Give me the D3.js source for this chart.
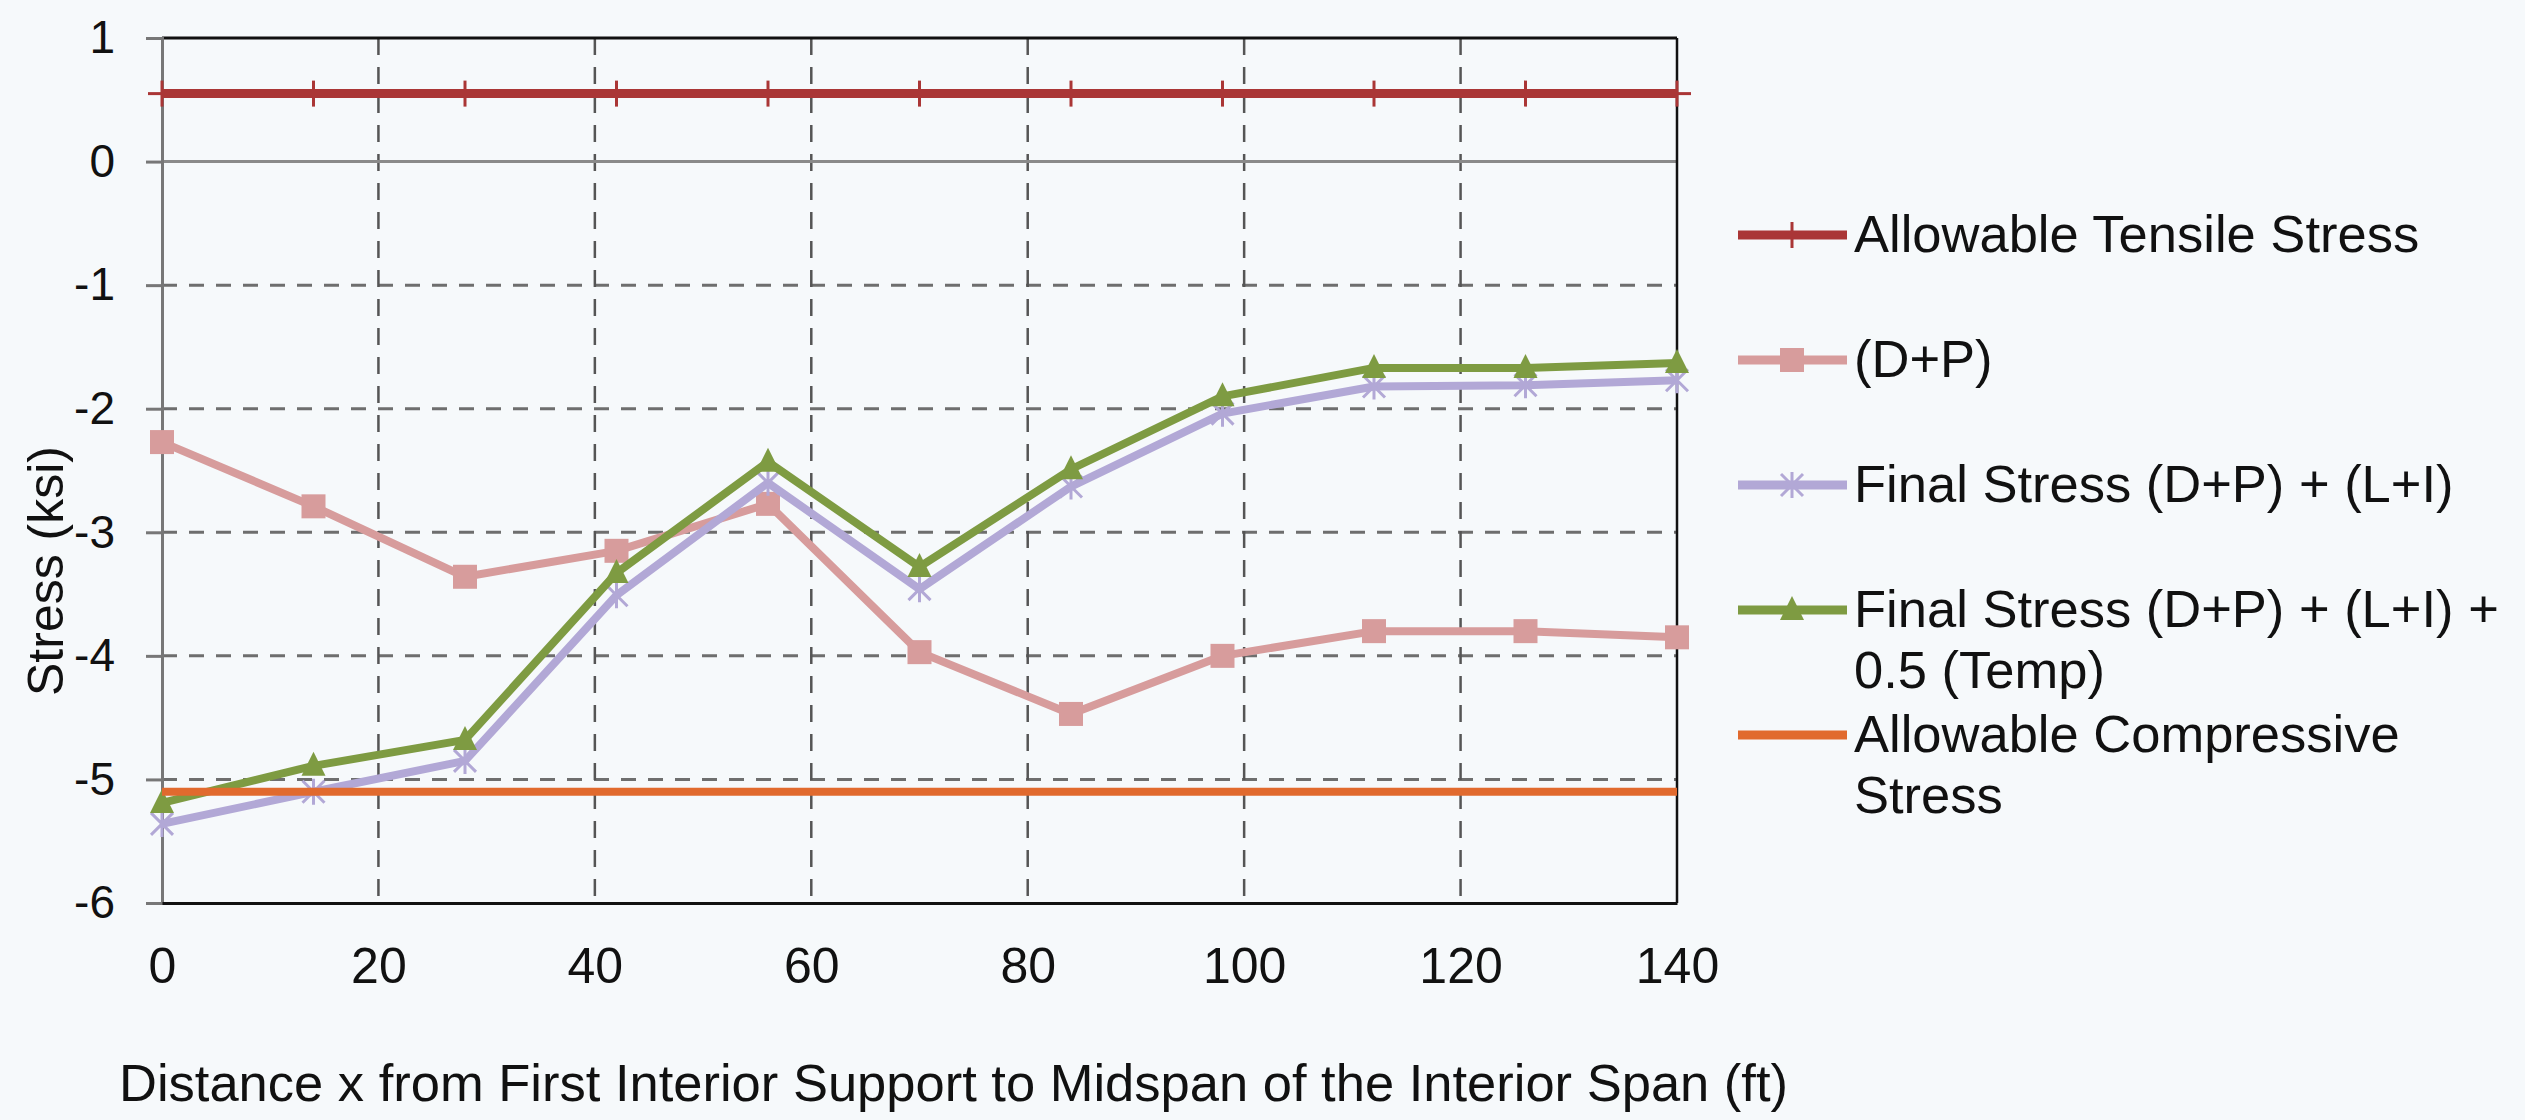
<!DOCTYPE html>
<html>
<head>
<meta charset="utf-8">
<script src="https://cdn.jsdelivr.net/npm/d3@7"></script>
<style>
  html, body { margin: 0; padding: 0; background: #f6f9fb; }
  svg { display: block; }
  text { font-family: "Liberation Sans", Arial, Helvetica, sans-serif; fill: #111; }
</style>
</head>
<body>
<svg id="chart" width="2525" height="1120"></svg>
<script>
// ---- data ----
const xValues = [0, 14, 28, 42, 56, 70, 84, 98, 112, 126, 140];
const tensileStress = [0.55, 0.55, 0.55, 0.55, 0.55, 0.55, 0.55, 0.55, 0.55, 0.55, 0.55];
const dpStress = [-2.27, -2.79, -3.36, -3.15, -2.77, -3.97, -4.47, -4.00, -3.80, -3.80, -3.85];
const finalStress = [-5.36, -5.10, -4.85, -3.51, -2.60, -3.46, -2.63, -2.04, -1.82, -1.81, -1.77];
const finalTempStress = [-5.19, -4.89, -4.68, -3.33, -2.43, -3.28, -2.49, -1.90, -1.67, -1.67, -1.63];
const compressiveStress = [-5.1, -5.1, -5.1, -5.1, -5.1, -5.1, -5.1, -5.1, -5.1, -5.1, -5.1];
const xTicks = [0, 20, 40, 60, 80, 100, 120, 140];
const yTicks = [1, 0, -1, -2, -3, -4, -5, -6];
const legendLabels = [
  ["Allowable Tensile Stress"],
  ["(D+P)"],
  ["Final Stress (D+P) + (L+I)"],
  ["Final Stress (D+P) + (L+I) +", "0.5 (Temp)"],
  ["Allowable Compressive", "Stress"]
];
const xTitle = "Distance x from First Interior Support to Midspan of the Interior Span (ft)";
const yTitle = "Stress (ksi)";

// ---- layout ----
const L = 162, R = 1677, T = 38, B = 903;
const svg = d3.select("#chart");
const x = d3.scaleLinear().domain([0, 140]).range([L, R]);
const y = d3.scaleLinear().domain([-6, 1]).range([B, T]);

const colors = {
  tensile: "#aa3636",
  dp: "#d79c9c",
  final: "#b2a8d6",
  finalTemp: "#7e9b42",
  comp: "#e16a2e"
};

// ---- grid ----
const grid = svg.append("g");
grid.selectAll("line.hg").data(yTicks.filter(v => v < 0 && v > -6)).join("line")
  .attr("x1", L).attr("x2", R).attr("y1", d => y(d)).attr("y2", d => y(d))
  .attr("stroke", "#6e6e6e").attr("stroke-width", 3).attr("stroke-dasharray", "15,12");
grid.selectAll("line.vg").data(xTicks.filter(v => v > 0 && v < 140)).join("line")
  .attr("x1", d => x(d)).attr("x2", d => x(d)).attr("y1", T).attr("y2", B)
  .attr("stroke", "#555").attr("stroke-width", 2.5).attr("stroke-dasharray", "17,12");
// zero line
grid.append("line").attr("x1", L).attr("x2", R).attr("y1", y(0)).attr("y2", y(0))
  .attr("stroke", "#8a8a8a").attr("stroke-width", 3);

// ---- borders ----
svg.append("line").attr("x1", L).attr("x2", R).attr("y1", T).attr("y2", T)
  .attr("stroke", "#111").attr("stroke-width", 3);
svg.append("line").attr("x1", R).attr("x2", R).attr("y1", T).attr("y2", B)
  .attr("stroke", "#111").attr("stroke-width", 2.5);

// ---- axes ----
const yAxis = svg.append("g").attr("transform", `translate(${L},0)`)
  .call(d3.axisLeft(y).tickValues(yTicks).tickSize(16).tickPadding(31).tickFormat(d => String(d)));
yAxis.select(".domain").attr("stroke", "#777").attr("stroke-width", 3);
yAxis.selectAll(".tick line").attr("stroke", "#777").attr("stroke-width", 3);
yAxis.selectAll(".tick text").attr("font-size", 46).attr("font-family", "Liberation Sans, Arial, sans-serif").attr("fill", "#111");

const xAxis = svg.append("g").attr("transform", `translate(0,${B})`)
  .call(d3.axisBottom(x).tickValues(xTicks).tickSize(0).tickPadding(44).tickSizeOuter(0));
xAxis.select(".domain").attr("stroke", "#111").attr("stroke-width", 3);
xAxis.selectAll(".tick text").attr("font-size", 50).attr("font-family", "Liberation Sans, Arial, sans-serif").attr("fill", "#111");

// ---- titles ----
svg.append("text").attr("x", 119).attr("y", 1101).attr("font-size", 52.5).text(xTitle);
svg.append("text").attr("transform", "translate(63,571) rotate(-90)")
  .attr("text-anchor", "middle").attr("font-size", 50).text(yTitle);

// ---- series ----
const lineGen = d3.line().x(d => x(d[0])).y(d => y(d[1]));
const pts = arr => xValues.map((xv, i) => [xv, arr[i]]);

function drawLine(arr, color, w) {
  svg.append("path").datum(pts(arr)).attr("d", lineGen)
    .attr("fill", "none").attr("stroke", color).attr("stroke-width", w)
    .attr("stroke-linejoin", "round");
}

function plusMarker(g, cx, cy, color) {
  g.append("line").attr("x1", cx - 14).attr("x2", cx + 14).attr("y1", cy).attr("y2", cy)
    .attr("stroke", color).attr("stroke-width", 3);
  g.append("line").attr("x1", cx).attr("x2", cx).attr("y1", cy - 13).attr("y2", cy + 13)
    .attr("stroke", color).attr("stroke-width", 3);
}
function squareMarker(g, cx, cy, color) {
  g.append("rect").attr("x", cx - 12).attr("y", cy - 12).attr("width", 24).attr("height", 24)
    .attr("fill", color);
}
function starMarker(g, cx, cy, color) {
  const s = 11;
  g.append("path")
    .attr("d", `M${cx - s},${cy - s}L${cx + s},${cy + s}M${cx - s},${cy + s}L${cx + s},${cy - s}M${cx},${cy - s - 2}L${cx},${cy + s + 2}`)
    .attr("stroke", color).attr("stroke-width", 3).attr("fill", "none");
}
function triMarker(g, cx, cy, color) {
  g.append("path")
    .attr("d", `M${cx},${cy - 14}L${cx + 12},${cy + 10}L${cx - 12},${cy + 10}Z`)
    .attr("fill", color);
}

drawLine(tensileStress, colors.tensile, 9);
const gT = svg.append("g");
pts(tensileStress).forEach(p => plusMarker(gT, x(p[0]), y(p[1]), colors.tensile));

drawLine(dpStress, colors.dp, 8);
const gD = svg.append("g");
pts(dpStress).forEach(p => squareMarker(gD, x(p[0]), y(p[1]), colors.dp));

drawLine(finalStress, colors.final, 8);
const gF = svg.append("g");
pts(finalStress).forEach(p => starMarker(gF, x(p[0]), y(p[1]), colors.final));

drawLine(finalTempStress, colors.finalTemp, 8);
const gG = svg.append("g");
pts(finalTempStress).forEach(p => triMarker(gG, x(p[0]), y(p[1]), colors.finalTemp));

drawLine(compressiveStress, colors.comp, 8);

// ---- legend ----
const legendColors = [colors.tensile, colors.dp, colors.final, colors.finalTemp, colors.comp];
const legendMarkers = [plusMarker, squareMarker, starMarker, triMarker, null];
const lg = svg.append("g");
legendLabels.forEach((lines, i) => {
  const ly = 235 + i * 125;
  lg.append("line").attr("x1", 1738).attr("x2", 1847).attr("y1", ly).attr("y2", ly)
    .attr("stroke", legendColors[i]).attr("stroke-width", 9);
  if (legendMarkers[i]) legendMarkers[i](lg, 1792, ly, legendColors[i]);
  const t = lg.append("text").attr("x", 1854).attr("y", ly + 17).attr("font-size", 52.5);
  lines.forEach((s, j) => {
    t.append("tspan").attr("x", 1854).attr("dy", j === 0 ? 0 : 61).text(s);
  });
});
</script>
</body>
</html>
